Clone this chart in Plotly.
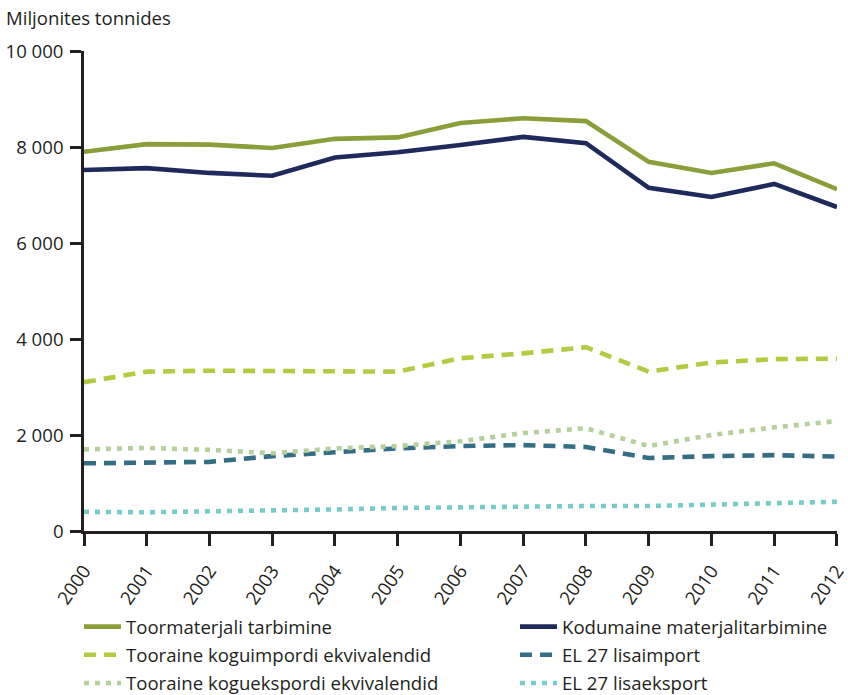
import plotly.graph_objects as go

years = list(range(2000, 2013))
toormaterjali = [7900, 8060, 8050, 7980, 8170, 8200, 8500, 8600, 8540, 7690, 7460, 7660, 7120]
kodumaine = [7520, 7560, 7460, 7400, 7780, 7890, 8040, 8210, 8080, 7150, 6960, 7230, 6750]
koguimport = [3100, 3320, 3340, 3340, 3320, 3320, 3600, 3700, 3830, 3320, 3510, 3580, 3590]
lisaimport = [1410, 1420, 1440, 1560, 1650, 1720, 1770, 1790, 1750, 1520, 1560, 1580, 1550]
koguekspordi = [1700, 1730, 1690, 1620, 1720, 1770, 1870, 2040, 2140, 1770, 2000, 2160, 2290]
lisaeksport = [400, 390, 410, 420, 450, 480, 500, 510, 520, 520, 560, 580, 610]

series = [
    ("Toormaterjali tarbimine", toormaterjali, "#8a9e3a", "solid", "legend"),
    ("Kodumaine materjalitarbimine", kodumaine, "#1f2a5c", "solid", "legend2"),
    ("Tooraine koguimpordi ekvivalendid", koguimport, "#b5c941", "12px,8px", "legend"),
    ("EL 27 lisaimport", lisaimport, "#336e84", "12px,8px", "legend2"),
    ("Tooraine koguekspordi ekvivalendid", koguekspordi, "#b5d09a", "5px,6px", "legend"),
    ("EL 27 lisaeksport", lisaeksport, "#74cdc8", "5px,6px", "legend2"),
]

FS = 18.6

fig = go.Figure()
for i, (name, vals, color, dash, lg) in enumerate(series):
    fig.add_trace(go.Scatter(x=years, y=vals, name=name, mode="lines",
                             legend=lg, legendgroup="g%d" % i,
                             line=dict(color=color, dash=dash, width=4.6)))

leg_common = dict(orientation="v", yref="container", xref="container",
                  yanchor="top", y=1 - 608/695, xanchor="left",
                  font=dict(size=FS), tracegroupgap=1, itemwidth=37,
                  bgcolor="rgba(0,0,0,0)")

fig.update_layout(
    width=848, height=695,
    margin=dict(l=84, r=11, t=51, b=164, autoexpand=False),
    plot_bgcolor="white", paper_bgcolor="white",
    font=dict(family="Open Sans", size=FS, color="#231f20"),
    showlegend=True,
    legend=dict(x=79/848, **leg_common),
    legend2=dict(x=515/848, **leg_common),
    annotations=[dict(text="Miljonites tonnides", xref="paper", yref="paper",
                      x=-80/753, y=1 + 33/480, xanchor="left", yanchor="middle",
                      showarrow=False, font=dict(size=FS))],
)
fig.update_xaxes(range=[2000, 2012.0005], tickmode="array", tickvals=years,
                 ticktext=[str(y) for y in years], tickangle=-55,
                 ticklabeloverflow="allow",
                 showline=True, linecolor="#231f20", linewidth=2.5,
                 ticks="outside", ticklen=12, tickwidth=2.5, tickcolor="#231f20",
                 ticklabelstandoff=7,
                 showgrid=False, zeroline=False, automargin=False)
fig.update_yaxes(range=[0, 10000], tickvals=[0, 2000, 4000, 6000, 8000, 10000],
                 ticktext=["0", "2 000", "4 000", "6 000", "8 000", "10 000"],
                 ticklabeloverflow="allow",
                 showline=True, linecolor="#231f20", linewidth=2.5,
                 ticks="outside", ticklen=11, tickwidth=2.5, tickcolor="#231f20",
                 ticklabelstandoff=3,
                 showgrid=False, zeroline=False, automargin=False)

fig.write_html("out.html", config={"displayModeBar": False},
               post_script="document.body.style.margin='0';document.body.style.overflow='hidden';")
